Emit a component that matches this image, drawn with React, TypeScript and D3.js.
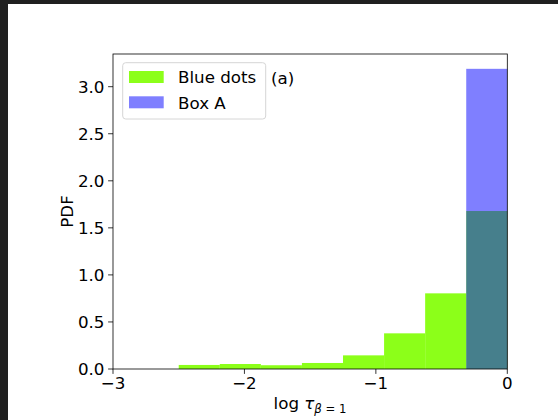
import React from "react";
import * as d3 from "d3";

// Histogram bin edges (shared by both series)
const binEdges = [-2.5, -2.1875, -1.875, -1.5625, -1.25, -0.9375, -0.625, -0.3125, 0];
// Density values per bin
const blueDots = [0.043, 0.053, 0.04, 0.064, 0.145, 0.379, 0.804, 1.679];
const boxA = [0, 0, 0, 0, 0, 0, 0, 3.19];

const xTicks = [-3, -2, -1, 0];
const yTicks = [0, 0.5, 1.0, 1.5, 2.0, 2.5, 3.0];
const seriesNames = ["Blue dots", "Box A"];

const W = 558;
const H = 420;
const FONT = "'DejaVu Sans', sans-serif";
const FS = 16.7;

export default function App() {
  const left = 113;
  const right = 507.3;
  const top = 54;
  const bottom = 369;

  const x = d3.scaleLinear().domain([-3, 0]).range([left, right]);
  const y = d3.scaleLinear().domain([0, 3.3475]).range([bottom, top]);

  const bars = (vals: number[]) =>
    vals.map((v, i) => ({ x0: binEdges[i], x1: binEdges[i + 1], v })).filter((d) => d.v > 0);

  const minus = (t: number) => (t < 0 ? "\u2212" + Math.abs(t) : String(t));

  return (
    <svg
      width={W}
      height={H}
      style={{ position: "absolute", left: 0, top: 0, display: "block" }}
      fontFamily={FONT}
    >
      <rect x={0} y={0} width={W} height={H} fill="#ffffff" />
      <rect x={0} y={0} width={W} height={4} fill="#202020" />
      <rect x={0} y={0} width={8} height={H} fill="#202020" />

      {/* Blue dots histogram */}
      {bars(blueDots).map((d, i) => (
        <rect
          key={"g" + i}
          x={x(d.x0)}
          y={y(d.v)}
          width={x(d.x1) - x(d.x0)}
          height={y(0) - y(d.v)}
          fill="#7fff00"
          fillOpacity={0.9}
        />
      ))}
      {/* Box A histogram */}
      {bars(boxA).map((d, i) => (
        <rect
          key={"b" + i}
          x={x(d.x0)}
          y={y(d.v)}
          width={x(d.x1) - x(d.x0)}
          height={y(0) - y(d.v)}
          fill="#0000ff"
          fillOpacity={0.5}
        />
      ))}

      {/* spines */}
      <rect x={left} y={top} width={right - left} height={bottom - top} fill="none" stroke="#000" strokeWidth={0.8} />

      {/* y ticks */}
      {yTicks.map((t) => (
        <g key={"y" + t}>
          <line x1={left - 4.9} x2={left} y1={y(t)} y2={y(t)} stroke="#000" strokeWidth={0.8} />
          <text x={left - 8.5} y={y(t)} dy="0.36em" textAnchor="end" fontSize={FS} fill="#000">
            {t.toFixed(1)}
          </text>
        </g>
      ))}

      {/* x ticks */}
      {xTicks.map((t) => (
        <g key={"x" + t}>
          <line x1={x(t)} x2={x(t)} y1={bottom} y2={bottom + 4.9} stroke="#000" strokeWidth={0.8} />
          <text x={x(t)} y={389} textAnchor="middle" fontSize={FS} fill="#000">
            {minus(t)}
          </text>
        </g>
      ))}

      {/* axis labels */}
      <text x={310} y={408.5} textAnchor="middle" fontSize={FS} fill="#000">
        <tspan>log </tspan>
        <tspan fontStyle="italic">τ</tspan>
        <tspan fontSize={FS * 0.7} dy={4} fontStyle="italic">β</tspan>
        <tspan fontSize={FS * 0.7}> = 1</tspan>
      </text>
      <text
        transform={`translate(72.5,${(top + bottom) / 2}) rotate(-90)`}
        textAnchor="middle"
        fontSize={FS}
        fill="#000"
      >
        PDF
      </text>

      {/* panel tag */}
      <text x={271} y={83.5} fontSize={FS} fill="#000">
        (a)
      </text>

      {/* legend */}
      <rect x={122.7} y={62.7} width={143} height={56.3} rx={3} fill="#ffffff" fillOpacity={0.8} stroke="#d6d6d6" strokeWidth={1} />
      <rect x={129} y={71} width={34.7} height={12} fill="#7fff00" fillOpacity={0.9} />
      <rect x={129} y={96.3} width={34.7} height={12} fill="#0000ff" fillOpacity={0.5} />
      <text x={178} y={83.3} fontSize={FS} fill="#000">
        {seriesNames[0]}
      </text>
      <text x={178} y={108.8} fontSize={FS} fill="#000">
        {seriesNames[1]}
      </text>
    </svg>
  );
}
